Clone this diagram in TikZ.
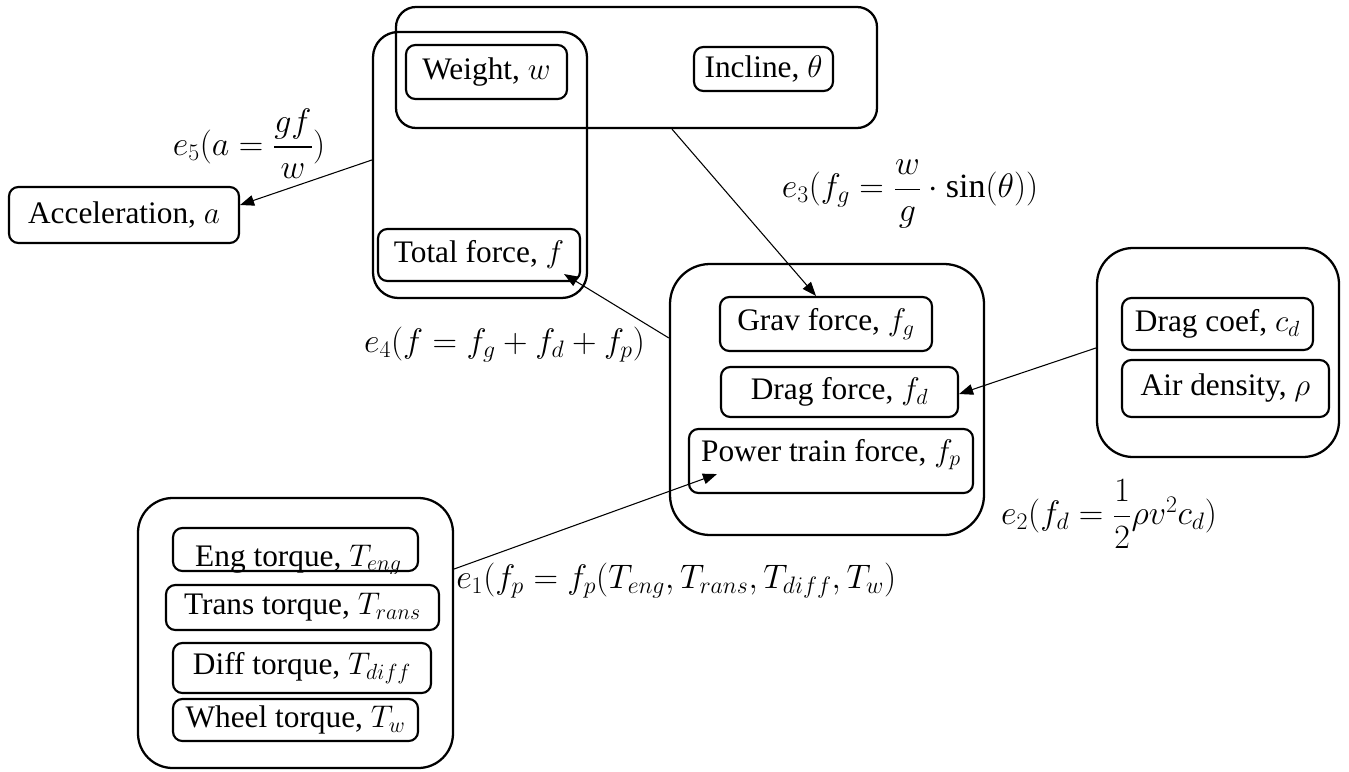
\RequirePackage{fix-cm}
\documentclass[tikz,border=0pt]{standalone}
\usepackage{amsmath}
\usepackage{fontspec}
\setmainfont{Liberation Serif}
\usetikzlibrary{arrows.meta,calc}

% one drawing unit = one pixel of the 1349 x 771 canvas
\def\upx{0.75pt}

\tikzset{
  txt/.style={font=\fontsize{23.5}{28}\selectfont, inner sep=0pt},
  box/.style={txt, draw, line width=1.6pt, rounded corners=7pt},
  grp/.style={draw, line width=1.7pt, inner sep=0pt},
  lnk/.style={line width=0.8pt, -{Triangle[length=10.5pt,width=8pt]}},
  eqn/.style={font=\fontsize{25.5}{30}\selectfont, inner sep=0pt}
}

\begin{document}
\begin{tikzpicture}[x=0.75pt,y=-0.75pt]
\useasboundingbox (0,0) rectangle (1349,771);

% ---- grouping frames ----
\node[grp, rounded corners=15pt, minimum width=481*\upx, minimum height=121*\upx] (topgrp)    at (636.5,67.5) {};
\node[grp, rounded corners=19pt, minimum width=214*\upx, minimum height=266*\upx] (tallgrp)   at (480,165) {};
\node[grp, rounded corners=30pt, minimum width=314*\upx, minimum height=271*\upx] (midgrp)    at (827,399.5) {};
\node[grp, rounded corners=27pt, minimum width=242*\upx, minimum height=209*\upx] (rightgrp)  at (1218,352.5) {};
\node[grp, rounded corners=26pt, minimum width=315*\upx, minimum height=270*\upx] (torquegrp) at (295.5,633) {};

% ---- variables ----
\node[box, minimum width=161*\upx, minimum height=54*\upx] (weight)  at (486.5,72)   {Weight, $w$};
\node[box, minimum width=139*\upx, minimum height=44*\upx] (incline) at (763.5,69)   {Incline, $\theta$};
\node[box, minimum width=230*\upx, minimum height=56*\upx] (accel)   at (124,215)    {Acceleration, $a$};
\node[box, minimum width=202*\upx, minimum height=52*\upx] (total)   at (479,255)    {Total force, $f$};

\node[box, minimum width=212*\upx, minimum height=54*\upx] (grav)  at (826,324)   {Grav force, $f_g$};
\node[box, minimum width=237*\upx, minimum height=50*\upx] (drag)  at (839.5,392) {Drag force, $f_d$};
\node[box, minimum width=284*\upx, minimum height=64*\upx, text height=20pt, text depth=20pt] (power) at (831,461) {Power train force, $f_p$};

\node[box, minimum width=191*\upx, minimum height=52*\upx] (dragcoef) at (1217.5,324)  {Drag coef, $c_d$};
\node[box, minimum width=207*\upx, minimum height=57*\upx] (airdens)  at (1225.5,388.5) {Air density, $\rho$};

% engine torque: the subscript runs past the frame and is cut by it
\node[box, minimum width=245*\upx, minimum height=43*\upx] (eng) at (295.5,549.5) {};
\begin{scope}
  \clip[rounded corners=7pt] ($(eng.south west)+(-1,1)$) rectangle ($(eng.north east)+(1,-1)$);
  \node[txt, anchor=base] (engtxt) at (298.5,566) {Eng torque, $T_{eng}$};
\end{scope}
\node[box, minimum width=273*\upx, minimum height=45*\upx] (trans) at (302.5,607.5) {Trans torque, $T_{rans}$};
\node[box, minimum width=258*\upx, minimum height=50*\upx] (diff)  at (302,668)     {Diff torque, $T_{diff}$};
\node[box, minimum width=245*\upx, minimum height=42*\upx] (wheel) at (295.5,720)   {Wheel torque, $T_w$};

% ---- relations ----
\draw[lnk] ($(tallgrp.west)+(0,-5)$) -- ($(accel.east)+(0,-10)$);
\draw[lnk] ($(topgrp.south)+(35.5,0)$) -- ($(grav.north)+(-10,0)$);
\draw[lnk] ($(midgrp.west)+(0,-61.5)$) -- ($(total.south east)+(-17,-8)$);
\draw[lnk] ($(rightgrp.west)+(0,-4.5)$) -- ($(drag.east)+(0,2)$);
\draw[lnk] ($(torquegrp.east)+(0,-64)$) -- ($(power.south west)+(29,-20)$);

% ---- equation labels ----
\node[eqn] (e5) at (249,144)  {$e_5(a=\dfrac{gf}{w})$};
\node[eqn] (e3) at (910,194)  {$e_3(f_g=\dfrac{w}{g}\cdot\sin(\theta))$};
\node[eqn] (e4) at (504.5,345) {$e_4(f=f_g+f_d+f_p)$};
\node[eqn] (e2) at (1109,514) {$e_2(f_d=\dfrac{1}{2}\rho v^2c_d)$};
\node[eqn, anchor=base west] (e1) at (456,588) {$e_1(f_p=f_p(T_{eng},T_{rans},T_{diff},T_w)$};

\end{tikzpicture}
\end{document}
